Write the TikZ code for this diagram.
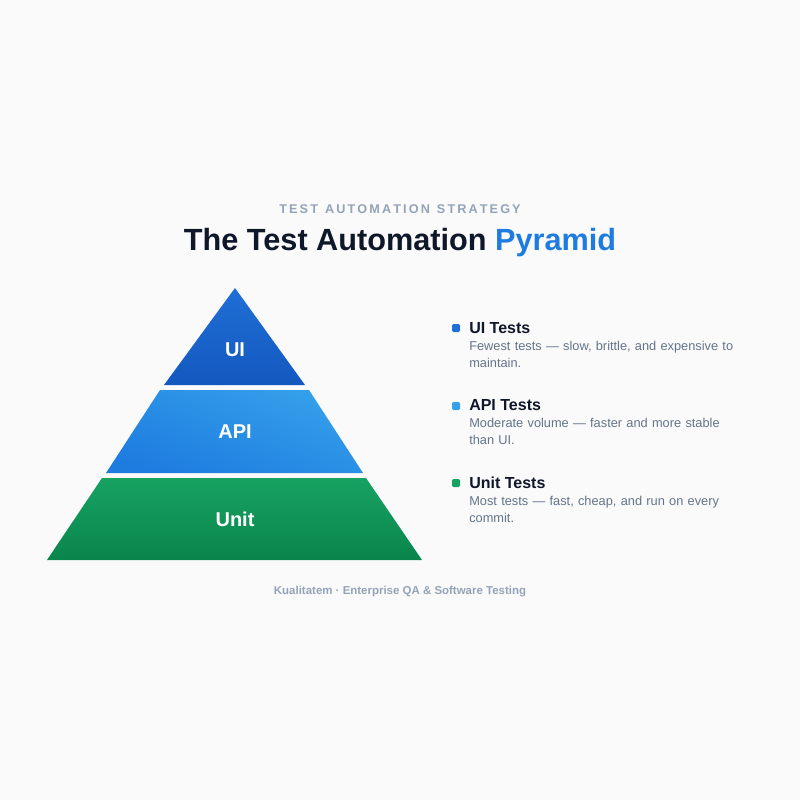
\documentclass[tikz,border=0pt]{standalone}
\usepackage{fontspec}
\setmainfont{Liberation Sans}
\definecolor{bgcol}{HTML}{FAFAFA}
\definecolor{inkcol}{HTML}{0F172A}
\definecolor{greycol}{HTML}{94A3B8}
\definecolor{desccol}{HTML}{64748B}
\definecolor{bluecol}{HTML}{1E7BE0}
\definecolor{uitop}{HTML}{1F6FD6}
\definecolor{uibot}{HTML}{1358BF}
\definecolor{apitop}{HTML}{34A0EA}
\definecolor{apibot}{HTML}{1E7CE0}
\definecolor{unittop}{HTML}{17A262}
\definecolor{unitbot}{HTML}{0A854C}
\tikzset{
  layerlabel/.style={text=white,font=\fontsize{15}{18}\selectfont\bfseries},
  head/.style={anchor=west,text=inkcol,font=\fontsize{12}{14}\selectfont\bfseries,inner sep=0pt},
  desc/.style={anchor=north west,text=desccol,font=\fontsize{9.6}{13}\selectfont,inner sep=0pt,align=left,text width=205pt},
  bullet/.style={rectangle,rounded corners=1pt,minimum size=6pt,inner sep=0pt}
}
\begin{document}
\begin{tikzpicture}[x=0.75pt,y=-0.75pt]
\fill[bgcol] (0,0) rectangle (800,800);
\useasboundingbox (0,0) rectangle (800,800);
% heading
\node[text=greycol,font=\fontsize{9.5}{11}\selectfont\bfseries] (kicker) at (400,209) {T\,E\,S\,T\ \ A\,U\,T\,O\,M\,A\,T\,I\,O\,N\ \ S\,T\,R\,A\,T\,E\,G\,Y};
\node[text=inkcol,font=\fontsize{23}{27}\selectfont\bfseries] (title) at (400,243) {The Test Automation \textcolor{bluecol}{Pyramid}};
% pyramid
\shade[top color=uitop,bottom color=uibot] (235,288) -- (305,385) -- (164,385) -- cycle;
\shade[top color=apitop,bottom color=apibot,shading angle=-20] (160,390) -- (309,390) -- (363,473) -- (106,473) -- cycle;
\shade[top color=unittop,bottom color=unitbot] (102,478) -- (366,478) -- (422,560) -- (47,560) -- cycle;
\node[layerlabel] (ui) at (235,350) {UI};
\node[layerlabel] (api) at (235,432) {API};
\node[layerlabel] (unit) at (235,519) {Unit};
% legend
\node[bullet,fill=uitop] (b1) at (456,328) {};
\node[head] (h1) at (469,328) {UI Tests};
\node[desc] (d1) at (469,341) {Fewest tests — slow, brittle, and expensive to maintain.};
\node[bullet,fill=apitop] (b2) at (456,406) {};
\node[head] (h2) at (469,405) {API Tests};
\node[desc] (d2) at (469,418) {Moderate volume — faster and more stable than UI.};
\node[bullet,fill=unittop] (b3) at (456,483) {};
\node[head] (h3) at (469,483) {Unit Tests};
\node[desc] (d3) at (469,496) {Most tests — fast, cheap, and run on every commit.};
% footer
\node[text=greycol,font=\fontsize{8.6}{10}\selectfont\bfseries] (foot) at (400,592) {Kualitatem · Enterprise QA \& Software Testing};
\end{tikzpicture}
\end{document}
